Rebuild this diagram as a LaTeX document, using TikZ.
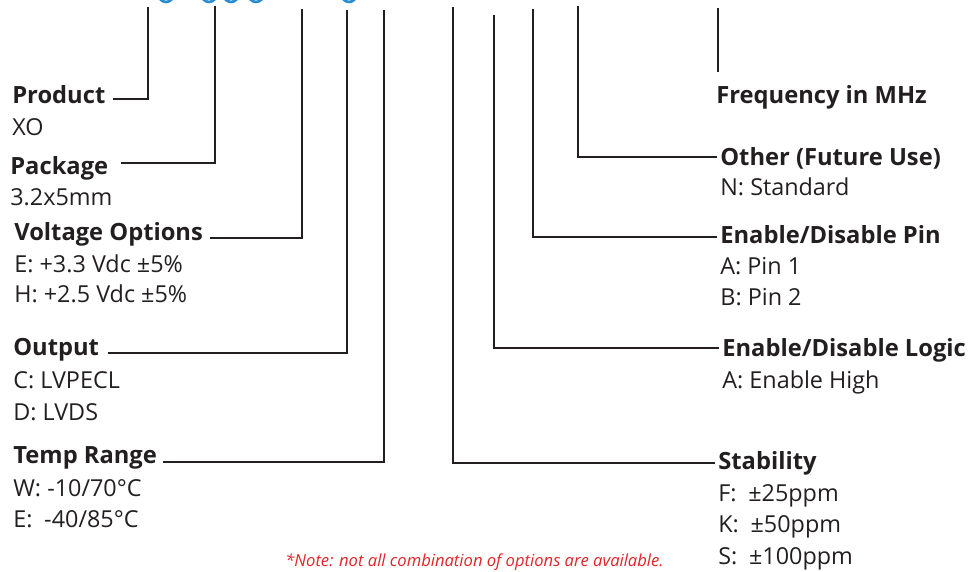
\documentclass[tikz,border=0pt]{standalone}
\usepackage{fontspec}
\setmainfont{Open Sans}
\usetikzlibrary{positioning}

\definecolor{ink}{RGB}{35,31,32}
\definecolor{partblue}{RGB}{40,140,210}
\definecolor{notered}{RGB}{226,35,40}

\tikzset{
  head/.style={anchor=base west, inner sep=0pt, text=ink,
    font=\bfseries\fontsize{13.5}{16}\selectfont},
  opt/.style={anchor=base west, inner sep=0pt, text=ink,
    font=\fontsize{13.3}{16}\selectfont},
  note/.style={anchor=base west, inner sep=0pt, text=notered,
    font=\itshape\fontsize{9.45}{11}\selectfont},
  lead/.style={draw=ink, line width=1.1pt},
  partno/.style={draw=partblue, line width=1.5pt}
}

\begin{document}
\begin{tikzpicture}[x=0.02cm, y=-0.02cm]
  \useasboundingbox (0,0) rectangle (972,571);

  % cut-off part number above the taps
  \foreach \x in {166,209,231,256,349}
    \draw[partno] (\x-6,-1) .. controls (\x-3,3) and (\x+3,3) .. (\x+6,-1);

  % field headings
  \node[head] (prod)  at (12,103)  {Product};
  \node[head] (pack)  at (10,174)  {Package};
  \node[head] (volt)  at (14,240)  {Voltage Options};
  \node[head] (outp)  at (13,355)  {Output};
  \node[head] (temp)  at (13,463)  {Temp Range};
  \node[head] (freq)  at (716,103) {Frequency in MHz};
  \node[head] (other) at (720,165) {Other (Future Use)};
  \node[head] (pin)   at (720,243) {Enable/Disable Pin};
  \node[head] (logic) at (722,356) {Enable/Disable Logic};
  \node[head] (stab)  at (718,469) {Stability};

  % option codes
  \foreach \x/\y/\txt [count=\i] in {
      12/135/XO,
      10/205/3.2x5mm,
      14/272/{E: +3.3 Vdc \textpm5\%},
      14/302/{H: +2.5 Vdc \textpm5\%},
      13/388/{C: LVPECL},
      13/420/{D: LVDS},
      13/496/{W: -10/70\textdegree C},
      13/527/{E:\enspace-40/85\textdegree C},
      720/195/{N: Standard},
      720/274/{A: Pin 1},
      720/305/{B: Pin 2},
      722/388/{A: Enable High},
      718/501/{F:\enspace\textpm25ppm},
      718/532/{K:\enspace\textpm50ppm},
      718/564/{S:\enspace\textpm100ppm}
    }
    \node[opt] (code\i) at (\x,\y) {\txt};

  \node[note] (note) at (285,566)
    {*Note: not all combination of options are available.};

  % taps from the part number down to the headings
  \foreach \lbl/\x/\top/\y/\gap in {
      prod/148/7/99/4pt,
      pack/215/6/163/7pt,
      volt/302/9/238/4pt,
      outp/347/10/353/5pt,
      temp/384/10/462/3pt
    } {
      \coordinate (\lbl-tap)  at (\x,\top);
      \coordinate (\lbl-knee) at (\x,\y);
      \draw[lead, shorten >=\gap] (\lbl-tap) -- (\lbl-knee) -- (\lbl-knee -| \lbl.east);
    }
  \foreach \lbl/\x/\top/\y in {
      stab/453/7/463,
      logic/494/15/348,
      pin/533/9/237,
      other/578/6/157
    } {
      \coordinate (\lbl-tap)  at (\x,\top);
      \coordinate (\lbl-knee) at (\x,\y);
      \draw[lead, shorten >=2pt] (\lbl-tap) -- (\lbl-knee) -- (\lbl-knee -| \lbl.west);
    }
  \coordinate (freq-tap) at (718,8);
  \draw[lead, shorten >=7pt] (freq-tap) -- (freq-tap |- freq.north);
\end{tikzpicture}
\end{document}
